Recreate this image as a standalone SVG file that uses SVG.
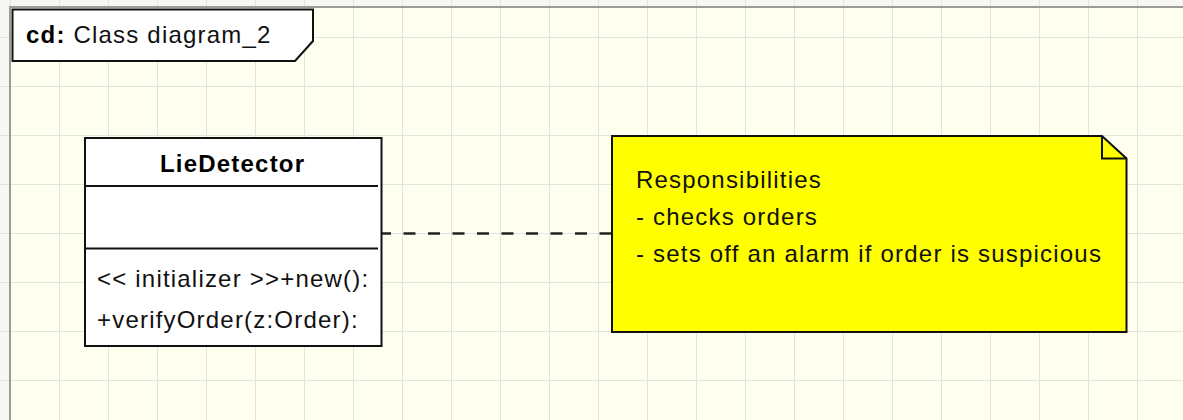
<svg xmlns="http://www.w3.org/2000/svg" width="1183" height="420" viewBox="0 0 1183 420">
  <defs>
    <pattern id="grid" x="10" y="37" width="49" height="49" patternUnits="userSpaceOnUse">
      <path d="M0 0 H49 M0 0 V49" fill="none" stroke="#e2e2de" stroke-width="2"/>
    </pattern>
  </defs>
  <style>
    .txt { font-family: "Liberation Sans", Arial, sans-serif; font-size: 24px; letter-spacing: 1.2px; fill: #111; }
    .bold { font-weight: bold; fill: #000; }
    .shape { stroke: #111; stroke-width: 2; }
  </style>

  <!-- canvas -->
  <rect x="0" y="0" width="1183" height="420" fill="#f6f6f2"/>
  <rect x="10" y="7" width="1173" height="413" fill="#fffff0"/>
  <rect x="0" y="0" width="1183" height="420" fill="url(#grid)"/>
  <path d="M10 420 V7 H1183" fill="none" stroke="#9a9a9a" stroke-width="2"/>

  <!-- diagram frame label -->
  <g id="frame">
    <polygon class="shape" points="12.5,9.5 313,9.5 313,41 295,61 12.5,61" fill="#ffffff"/>
    <text class="txt" x="26" y="43"><tspan class="bold">cd:</tspan> Class diagram_2</text>
  </g>

  <!-- connectors -->
  <g id="connectors">
    <line x1="379" y1="233.5" x2="611" y2="233.5" stroke="#222" stroke-width="2.5" stroke-dasharray="12 12.5"/>
  </g>

  <!-- class LieDetector -->
  <g id="LieDetector">
    <rect class="shape" x="85" y="138" width="296.5" height="208" fill="#ffffff"/>
    <line class="shape" x1="86" y1="186" x2="378" y2="186"/>
    <line class="shape" x1="86" y1="248.5" x2="378" y2="248.5"/>
    <text class="txt bold" x="160" y="172">LieDetector</text>
    <text class="txt" x="97" y="287">&lt;&lt; initializer &gt;&gt;+new():</text>
    <text class="txt" x="97" y="327.5">+verifyOrder(z:Order):</text>
  </g>

  <!-- note -->
  <g id="note">
    <polygon class="shape" points="612,136 1102,136 1126.5,158.5 1126.5,332 612,332" fill="#ffff00"/>
    <polyline class="shape" points="1102,136 1102,158.5 1126.5,158.5" fill="none"/>
    <text class="txt" x="636" y="188">Responsibilities</text>
    <text class="txt" x="636" y="225">- checks orders</text>
    <text class="txt" x="636" y="262">- sets off an alarm if order is suspicious</text>
  </g>
</svg>
